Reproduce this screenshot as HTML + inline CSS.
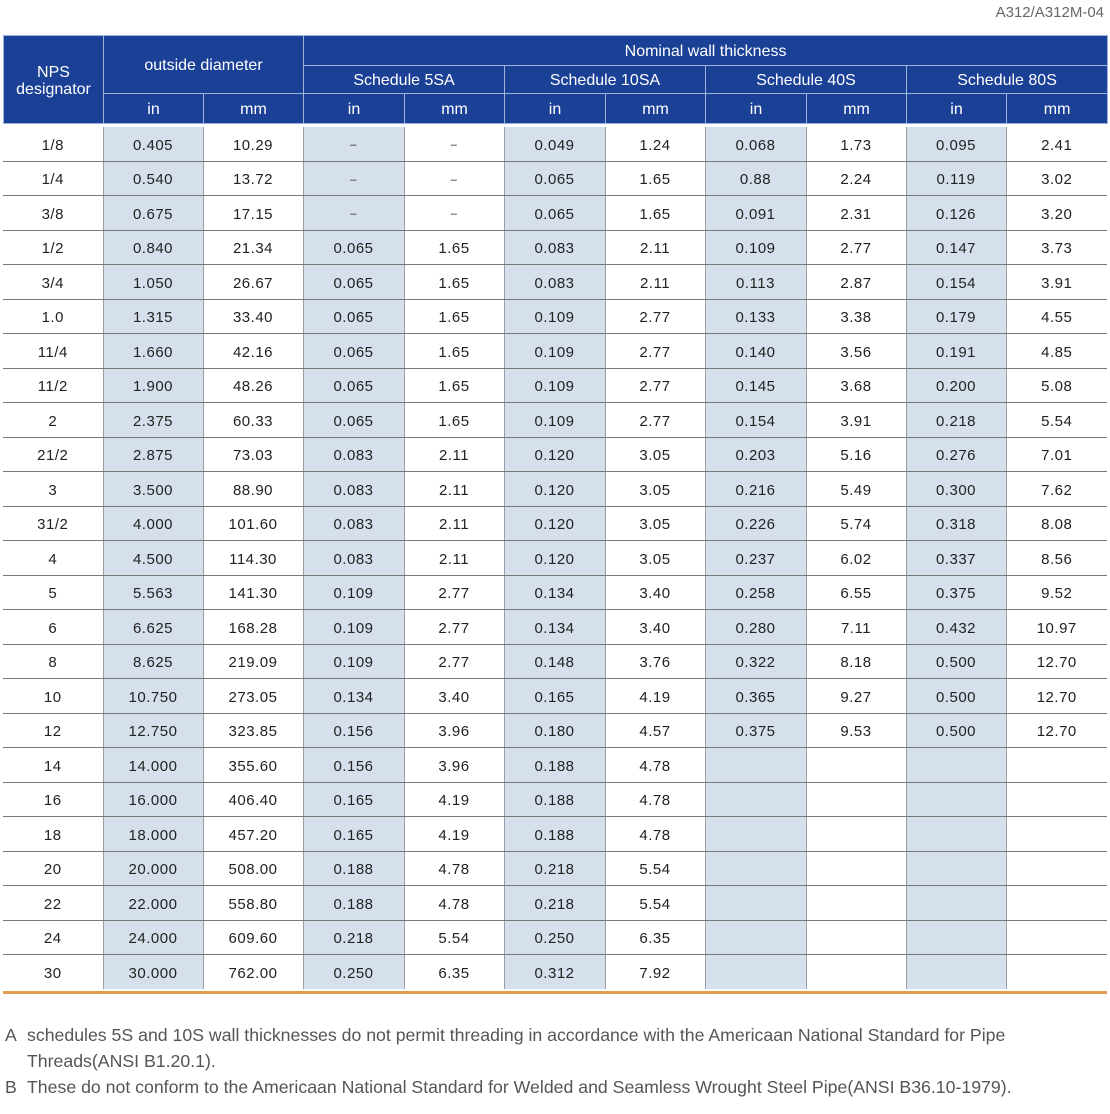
<!DOCTYPE html>
<html><head><meta charset="utf-8"><style>
body{margin:0;width:1110px;height:1114px;background:#fff;position:relative;font-family:"Liberation Sans",sans-serif;overflow:hidden}
.t{position:absolute;left:3px;width:1104px;border-collapse:collapse;table-layout:fixed}
#h{top:35px}
#h td{background:#1b4196;color:#fff;font-size:16px;text-align:center;border:1px solid #9fb2db;padding:2px 0 0 0;line-height:17px}
#d{top:127px}
#d td{height:30.5px;padding:3px 0 0 0;text-align:center;font-size:15px;color:#222;border-bottom:1px solid #777;letter-spacing:0.5px}
#d td.s{background:#d6e0ec;border-left:1.5px solid #9a9ea6;border-right:1.5px solid #9a9ea6}
.dash{color:#bbb;font-size:11px!important}
.top{position:absolute;right:6px;top:4px;font-size:15px;color:#666}
.or{position:absolute;left:3px;top:991px;width:1104px;height:3px;background:#e0a050}
.fn{position:absolute;font-size:17.7px;color:#555;left:5px}
.fn span{position:absolute;left:22px;white-space:nowrap}
</style></head><body>
<div class="top">A312/A312M-04</div>
<table class="t" id="h">
<colgroup><col style="width:100px"><col style="width:100px"><col style="width:100px"><col style="width:101px"><col style="width:100px"><col style="width:101px"><col style="width:100px"><col style="width:101px"><col style="width:100px"><col style="width:100px"><col style="width:101px"></colgroup>
<tr style="height:30px"><td rowspan="3">NPS<br>designator</td><td colspan="2" rowspan="2">outside diameter</td><td colspan="8">Nominal wall thickness</td></tr>
<tr style="height:28px"><td colspan="2">Schedule 5SA</td><td colspan="2">Schedule 10SA</td><td colspan="2">Schedule 40S</td><td colspan="2">Schedule 80S</td></tr>
<tr style="height:30px"><td>in</td><td>mm</td><td>in</td><td>mm</td><td>in</td><td>mm</td><td>in</td><td>mm</td><td>in</td><td>mm</td></tr>
</table>
<table class="t" id="d">
<colgroup><col style="width:100px"><col style="width:100px"><col style="width:100px"><col style="width:101px"><col style="width:100px"><col style="width:101px"><col style="width:100px"><col style="width:101px"><col style="width:100px"><col style="width:100px"><col style="width:101px"></colgroup>
<tr><td>1/8</td><td class="s">0.405</td><td>10.29</td><td class="s dash">–</td><td class="dash">–</td><td class="s">0.049</td><td>1.24</td><td class="s">0.068</td><td>1.73</td><td class="s">0.095</td><td>2.41</td></tr>
<tr><td>1/4</td><td class="s">0.540</td><td>13.72</td><td class="s dash">–</td><td class="dash">–</td><td class="s">0.065</td><td>1.65</td><td class="s">0.88</td><td>2.24</td><td class="s">0.119</td><td>3.02</td></tr>
<tr><td>3/8</td><td class="s">0.675</td><td>17.15</td><td class="s dash">–</td><td class="dash">–</td><td class="s">0.065</td><td>1.65</td><td class="s">0.091</td><td>2.31</td><td class="s">0.126</td><td>3.20</td></tr>
<tr><td>1/2</td><td class="s">0.840</td><td>21.34</td><td class="s">0.065</td><td>1.65</td><td class="s">0.083</td><td>2.11</td><td class="s">0.109</td><td>2.77</td><td class="s">0.147</td><td>3.73</td></tr>
<tr><td>3/4</td><td class="s">1.050</td><td>26.67</td><td class="s">0.065</td><td>1.65</td><td class="s">0.083</td><td>2.11</td><td class="s">0.113</td><td>2.87</td><td class="s">0.154</td><td>3.91</td></tr>
<tr><td>1.0</td><td class="s">1.315</td><td>33.40</td><td class="s">0.065</td><td>1.65</td><td class="s">0.109</td><td>2.77</td><td class="s">0.133</td><td>3.38</td><td class="s">0.179</td><td>4.55</td></tr>
<tr><td>11/4</td><td class="s">1.660</td><td>42.16</td><td class="s">0.065</td><td>1.65</td><td class="s">0.109</td><td>2.77</td><td class="s">0.140</td><td>3.56</td><td class="s">0.191</td><td>4.85</td></tr>
<tr><td>11/2</td><td class="s">1.900</td><td>48.26</td><td class="s">0.065</td><td>1.65</td><td class="s">0.109</td><td>2.77</td><td class="s">0.145</td><td>3.68</td><td class="s">0.200</td><td>5.08</td></tr>
<tr><td>2</td><td class="s">2.375</td><td>60.33</td><td class="s">0.065</td><td>1.65</td><td class="s">0.109</td><td>2.77</td><td class="s">0.154</td><td>3.91</td><td class="s">0.218</td><td>5.54</td></tr>
<tr><td>21/2</td><td class="s">2.875</td><td>73.03</td><td class="s">0.083</td><td>2.11</td><td class="s">0.120</td><td>3.05</td><td class="s">0.203</td><td>5.16</td><td class="s">0.276</td><td>7.01</td></tr>
<tr><td>3</td><td class="s">3.500</td><td>88.90</td><td class="s">0.083</td><td>2.11</td><td class="s">0.120</td><td>3.05</td><td class="s">0.216</td><td>5.49</td><td class="s">0.300</td><td>7.62</td></tr>
<tr><td>31/2</td><td class="s">4.000</td><td>101.60</td><td class="s">0.083</td><td>2.11</td><td class="s">0.120</td><td>3.05</td><td class="s">0.226</td><td>5.74</td><td class="s">0.318</td><td>8.08</td></tr>
<tr><td>4</td><td class="s">4.500</td><td>114.30</td><td class="s">0.083</td><td>2.11</td><td class="s">0.120</td><td>3.05</td><td class="s">0.237</td><td>6.02</td><td class="s">0.337</td><td>8.56</td></tr>
<tr><td>5</td><td class="s">5.563</td><td>141.30</td><td class="s">0.109</td><td>2.77</td><td class="s">0.134</td><td>3.40</td><td class="s">0.258</td><td>6.55</td><td class="s">0.375</td><td>9.52</td></tr>
<tr><td>6</td><td class="s">6.625</td><td>168.28</td><td class="s">0.109</td><td>2.77</td><td class="s">0.134</td><td>3.40</td><td class="s">0.280</td><td>7.11</td><td class="s">0.432</td><td>10.97</td></tr>
<tr><td>8</td><td class="s">8.625</td><td>219.09</td><td class="s">0.109</td><td>2.77</td><td class="s">0.148</td><td>3.76</td><td class="s">0.322</td><td>8.18</td><td class="s">0.500</td><td>12.70</td></tr>
<tr><td>10</td><td class="s">10.750</td><td>273.05</td><td class="s">0.134</td><td>3.40</td><td class="s">0.165</td><td>4.19</td><td class="s">0.365</td><td>9.27</td><td class="s">0.500</td><td>12.70</td></tr>
<tr><td>12</td><td class="s">12.750</td><td>323.85</td><td class="s">0.156</td><td>3.96</td><td class="s">0.180</td><td>4.57</td><td class="s">0.375</td><td>9.53</td><td class="s">0.500</td><td>12.70</td></tr>
<tr><td>14</td><td class="s">14.000</td><td>355.60</td><td class="s">0.156</td><td>3.96</td><td class="s">0.188</td><td>4.78</td><td class="s"></td><td></td><td class="s"></td><td></td></tr>
<tr><td>16</td><td class="s">16.000</td><td>406.40</td><td class="s">0.165</td><td>4.19</td><td class="s">0.188</td><td>4.78</td><td class="s"></td><td></td><td class="s"></td><td></td></tr>
<tr><td>18</td><td class="s">18.000</td><td>457.20</td><td class="s">0.165</td><td>4.19</td><td class="s">0.188</td><td>4.78</td><td class="s"></td><td></td><td class="s"></td><td></td></tr>
<tr><td>20</td><td class="s">20.000</td><td>508.00</td><td class="s">0.188</td><td>4.78</td><td class="s">0.218</td><td>5.54</td><td class="s"></td><td></td><td class="s"></td><td></td></tr>
<tr><td>22</td><td class="s">22.000</td><td>558.80</td><td class="s">0.188</td><td>4.78</td><td class="s">0.218</td><td>5.54</td><td class="s"></td><td></td><td class="s"></td><td></td></tr>
<tr><td>24</td><td class="s">24.000</td><td>609.60</td><td class="s">0.218</td><td>5.54</td><td class="s">0.250</td><td>6.35</td><td class="s"></td><td></td><td class="s"></td><td></td></tr>
<tr><td style="border-bottom:none">30</td><td class="s" style="border-bottom:none">30.000</td><td style="border-bottom:none">762.00</td><td class="s" style="border-bottom:none">0.250</td><td style="border-bottom:none">6.35</td><td class="s" style="border-bottom:none">0.312</td><td style="border-bottom:none">7.92</td><td class="s" style="border-bottom:none"></td><td style="border-bottom:none"></td><td class="s" style="border-bottom:none"></td><td style="border-bottom:none"></td></tr>
</table>
<div class="or"></div>
<div class="fn" style="top:1025px">A<span>schedules 5S and 10S wall thicknesses do not permit threading in accordance with the Americaan National Standard for Pipe</span></div>
<div class="fn" style="top:1051px"><span>Threads(ANSI B1.20.1).</span></div>
<div class="fn" style="top:1077px">B<span>These do not conform to the Americaan National Standard for Welded and Seamless Wrought Steel Pipe(ANSI B36.10-1979).</span></div>
</body></html>
